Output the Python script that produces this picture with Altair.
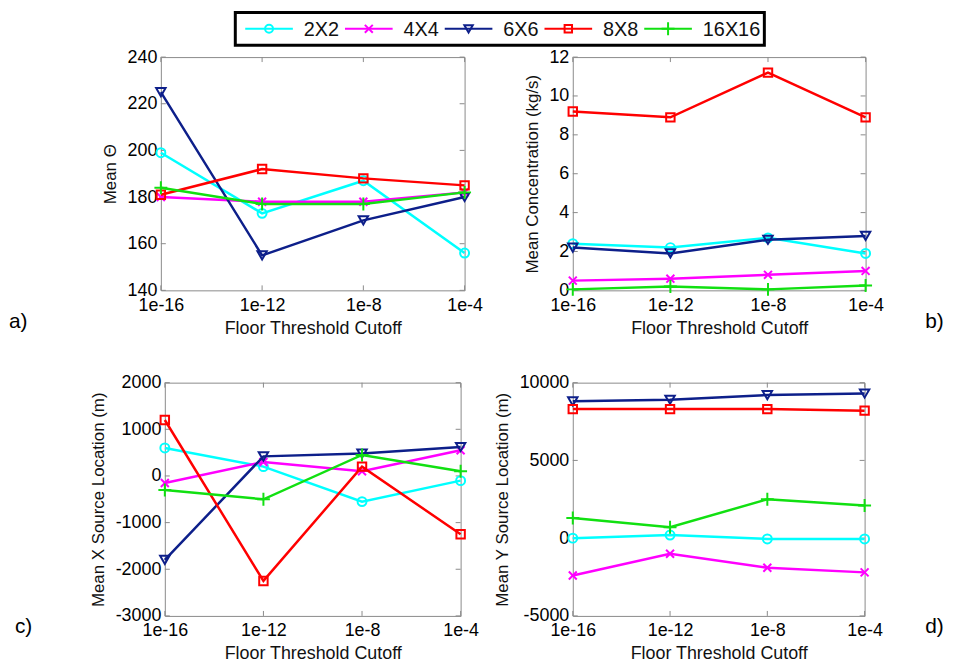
import altair as alt
import pandas as pd

# ---------------- data ----------------
cutoffs = ["1e-16", "1e-12", "1e-8", "1e-4"]
series_names = ["2X2", "4X4", "6X6", "8X8", "16X16"]

# a) Mean Theta
theta_2x2 = [199, 173, 187, 156]
theta_4x4 = [180, 178, 178, 182]
theta_6x6 = [225, 155, 170, 180]
theta_8x8 = [181, 192, 188, 185]
theta_16x16 = [184, 177, 177, 182]

# b) Mean Concentration (kg/s)
conc_2x2 = [2.4, 2.2, 2.7, 1.9]
conc_4x4 = [0.5, 0.6, 0.8, 1.0]
conc_6x6 = [2.2, 1.9, 2.6, 2.8]
conc_8x8 = [9.2, 8.9, 11.2, 8.9]
conc_16x16 = [0.05, 0.2, 0.05, 0.25]

# c) Mean X Source Location (m)
xloc_2x2 = [600, 200, -550, -100]
xloc_4x4 = [-150, 300, 100, 550]
xloc_6x6 = [-1800, 420, 480, 620]
xloc_8x8 = [1200, -2250, 200, -1250]
xloc_16x16 = [-300, -500, 450, 100]

# d) Mean Y Source Location (m)
yloc_2x2 = [0, 200, -50, -50]
yloc_4x4 = [-2400, -1000, -1900, -2200]
yloc_6x6 = [8800, 8900, 9200, 9300]
yloc_8x8 = [8300, 8300, 8300, 8200]
yloc_16x16 = [1300, 700, 2500, 2100]

ticks_a = [140, 160, 180, 200, 220, 240]
ticks_b = [0, 2, 4, 6, 8, 10, 12]
ticks_c = [-3000, -2000, -1000, 0, 1000, 2000]
ticks_d = [-5000, 0, 5000, 10000]

# ---------------- styles ----------------
FONT = "Liberation Sans"
X_PATH = "M-1,-1L1,1M-1,1L1,-1"
PLUS_PATH = "M-1,0L1,0M0,-1L0,1"
series_colors = ["#00FFFF", "#FF00FF", "#0d1f8a", "#FF0000", "#11e011"]
series_shapes = ["circle", X_PATH, "triangle-down", "square", PLUS_PATH]
plot_sizes = [81, 64, 90, 72, 169]
legend_sizes = [64, 64, 72, 56, 169]
AXIS_GRAY = "#8a8a8a"


def spacer(w, h):
    return (
        alt.Chart(pd.DataFrame({"v": [0]}))
        .mark_point(opacity=0, size=1)
        .encode(x=alt.value(0), y=alt.value(0))
        .properties(width=w, height=h, view=alt.ViewBackground(stroke="transparent"))
    )


def panel(series_values, ydomain, yticks, ytitle, width, height, label, lx, ly):
    xaxis = alt.Axis(
        title="Floor Threshold Cutoff", labelAngle=0, ticks=False, domain=False,
        grid=False, labelPadding=6, titlePadding=5, labelFontSize=18,
        titleFontSize=18, labelFont=FONT, titleFont=FONT,
        titleFontWeight="normal", labelColor="black", titleColor="#111",
        labelOverlap=False,
    )
    yaxis = alt.Axis(
        title=ytitle, values=yticks, ticks=False, domain=False, grid=False,
        labelPadding=4, titlePadding=8, labelFontSize=18, titleFontSize=17,
        labelFont=FONT, titleFont=FONT, titleFontWeight="normal",
        labelColor="black", titleColor="#111", labelExpr="datum.value + ''",
        labelOverlap=False,
    )
    xenc = alt.X("cutoff:N", sort=cutoffs,
                 scale=alt.Scale(type="point", padding=0), axis=xaxis)
    yscale = alt.Scale(domain=ydomain, nice=False, zero=False)
    yenc = alt.Y("value:Q", scale=yscale, axis=yaxis)

    layers = []
    # inside tick marks (MATLAB style)
    ydf = pd.DataFrame({"value": yticks})
    xdf = pd.DataFrame({"cutoff": cutoffs})
    tick_style = dict(color=AXIS_GRAY, strokeWidth=1)
    layers.append(alt.Chart(ydf).mark_rule(**tick_style).encode(
        y=yenc, x=alt.value(0), x2=alt.value(5)))
    layers.append(alt.Chart(ydf).mark_rule(**tick_style).encode(
        y=yenc, x=alt.value(width - 5), x2=alt.value(width)))
    layers.append(alt.Chart(xdf).mark_rule(**tick_style).encode(
        x=xenc, y=alt.value(height - 5), y2=alt.value(height)))
    layers.append(alt.Chart(xdf).mark_rule(**tick_style).encode(
        x=xenc, y=alt.value(0), y2=alt.value(5)))

    for name, vals, color, shape, size in zip(series_names, series_values,
                                              series_colors, series_shapes, plot_sizes):
        df = pd.DataFrame({"cutoff": cutoffs, "value": vals, "series": name})
        base = alt.Chart(df).encode(x=xenc, y=yenc)
        layers.append(base.mark_line(color=color, strokeWidth=2.5))
        layers.append(base.mark_point(shape=shape, color=color, size=size,
                                      filled=False, strokeWidth=2, opacity=1))

    layers.append(
        alt.Chart(pd.DataFrame({"t": [label]}))
        .mark_text(align="left", baseline="middle", fontSize=21, font=FONT, color="black")
        .encode(x=alt.value(lx), y=alt.value(ly), text="t:N")
    )
    return alt.layer(*layers).properties(
        width=width, height=height,
        view=alt.ViewBackground(stroke=AXIS_GRAY, strokeWidth=1),
    )


def legend_chart(height, box_left, box_right, first_center, last_center, half_line_px):
    # a 1px-wide cell; the legend is drawn beyond it so it does not affect the grid
    px_per_unit = (last_center - first_center) / 4.0
    half = half_line_px / px_per_unit
    xscale = alt.Scale(domain=[0, 4], range=[first_center, last_center])
    xs = alt.X("idx:Q", scale=xscale, axis=None)
    layers = [
        alt.Chart(pd.DataFrame({"v": [0]})).mark_rect(
            fill="white", stroke="black", strokeWidth=3
        ).encode(x=alt.value(box_left), x2=alt.value(box_right),
                 y=alt.value(0), y2=alt.value(height))
    ]
    for i, (name, color, shape, size) in enumerate(
            zip(series_names, series_colors, series_shapes, legend_sizes)):
        df = pd.DataFrame({"idx": [i], "name": [name]})
        layers.append(
            alt.Chart(df)
            .transform_calculate(x0=f"datum.idx - {half}", x1=f"datum.idx + {half}")
            .mark_rule(color=color, strokeWidth=2)
            .encode(x=alt.X("x0:Q", scale=xscale, axis=None), x2="x1:Q",
                    y=alt.value(height / 2))
        )
        layers.append(alt.Chart(df).mark_point(
            shape=shape, size=size, color=color, filled=False, strokeWidth=2, opacity=1
        ).encode(x=xs, y=alt.value(height / 2)))
    tdf = pd.DataFrame({"idx": list(range(len(series_names))), "name": series_names})
    layers.append(alt.Chart(tdf).mark_text(
        align="left", baseline="middle", dx=35, fontSize=20, font=FONT, color="#111"
    ).encode(x=xs, y=alt.value(height / 2 + 1), text="name:N"))
    return alt.layer(*layers).properties(
        width=1, height=height,
        view=alt.ViewBackground(stroke="transparent"),
    )


pa = panel([theta_2x2, theta_4x4, theta_6x6, theta_8x8, theta_16x16],
           [140, 240], ticks_a, "Mean Θ", 306, 235, "a)", -153, 267)
pb = panel([conc_2x2, conc_4x4, conc_6x6, conc_8x8, conc_16x16],
           [0, 12], ticks_b, "Mean Concentration (kg/s)", 295, 235, "b)", 355, 267)
pc = panel([xloc_2x2, xloc_4x4, xloc_6x6, xloc_8x8, xloc_16x16],
           [-3000, 2000], ticks_c, "Mean X Source Location (m)", 298, 235, "c)", -151, 246)
pd_ = panel([yloc_2x2, yloc_4x4, yloc_6x6, yloc_8x8, yloc_16x16],
            [-5000, 10000], ticks_d, "Mean Y Source Location (m)", 294, 235, "d)", 355, 246)

# the 1px legend cell is centred in the 306px column -> offsets are relative to x=152.5
LEG_SHIFT = 152.5
cells = [
    legend_chart(33, 75 - LEG_SHIFT, 608 - LEG_SHIFT, 109 - LEG_SHIFT, 511 - LEG_SHIFT, 24),
    spacer(1, 33),
    pa, pb,
    spacer(1, 69), spacer(1, 69),
    pc, pd_,
]

chart = alt.concat(
    *cells, columns=2, spacing=alt.RowColnumber(row=12, column=109),
    bounds="flush", align="each", center=True,
).properties(
    padding={"left": 0, "top": 0, "right": 0, "bottom": 0}
).configure(font=FONT, background="white")

chart.save("out.html", embed_options={"renderer": "svg", "actions": False})
